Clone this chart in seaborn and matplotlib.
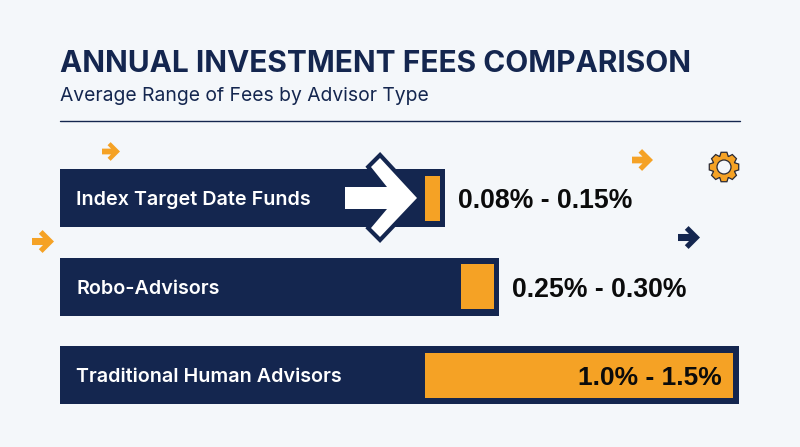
#Importing libraries
import numpy as np
import pandas as pd
import matplotlib.pyplot as plt
import seaborn as sns
from matplotlib.patches import Polygon, Circle

#Chart values (bar units are the picture's own, the bars are not to fee scale)
categories = ["Index Target Date Funds", "Robo-Advisors", "Traditional Human Advisors"]
track_length = [385, 439, 679]
fee_start = [365, 401, 365]
fee_end = [380, 434, 673]
fee_labels = ["0.08% - 0.15%", "0.25% - 0.30%", "1.0% - 1.5%"]

NAVY = "#14264F"
ORANGE = "#F5A225"
BACKGROUND = "#F4F7FA"

sns.set_theme(style="white")
plt.rcParams["font.family"] = ["Inter", "DejaVu Sans"]

fig = plt.figure(figsize=(8, 4.47), dpi=100, facecolor=BACKGROUND)

#Overlay in picture pixels for the header and the decorations
deco = fig.add_axes([0, 0, 1, 1], zorder=3)
deco.set_xlim(0, 800)
deco.set_ylim(447, 0)
deco.axis("off")

#Bar axes
ax = fig.add_axes([60 / 800, 1 - 419.5 / 447, 680 / 800, 265.5 / 447], zorder=1)
ax.set_facecolor("none")
df = pd.DataFrame({"category": categories, "track": track_length,
                   "start": fee_start, "end": fee_end})
df["span"] = df["end"] - df["start"]
sns.barplot(data=df, x="track", y="category", color=NAVY, saturation=1, width=0.655,
            linewidth=0, ax=ax)
sns.barplot(data=df, x="span", y="category", left=df["start"].values, color=ORANGE,
            saturation=1, width=0.51, linewidth=0, ax=ax)
ax.set_xlim(0, 680)
ax.set_ylim(2.5, -0.5)
ax.axis("off")

#Labels inside and next to the bars
for i, name in enumerate(categories):
    ax.text(16, i, name, color="white", fontsize=14.2, fontweight="semibold", va="center_baseline")
for i, label in enumerate(fee_labels[:2]):
    ax.text(track_length[i] + 13, i, label, color="#0B0B0B", fontsize=19.2, fontweight="bold",
            family="Liberation Sans", va="center_baseline")
ax.text(fee_end[2] - 11, 2, fee_labels[2], color="#0B0B0B", fontsize=19, fontweight="bold",
        family="Liberation Sans", va="center_baseline", ha="right")

#Header
deco.text(60, 61, "ANNUAL INVESTMENT FEES COMPARISON", color=NAVY, fontsize=21.5,
          fontweight="bold", va="center_baseline")
deco.text(60, 94, "Average Range of Fees by Advisor Type", color=NAVY, fontsize=13.9,
          va="center_baseline")
deco.plot([60, 740], [121, 121], color=NAVY, lw=1)

#Small arrows
def small_arrow(x0, x1, yc, color):
    w = x1 - x0
    h = 0.52 * w
    t = 0.16 * w
    d = 0.17 * w
    xa = x1 - h
    xi = xa - d + (h - d - t)
    pts = [(x0, yc - t), (xi, yc - t), (xa - d, yc - h + d), (xa, yc - h), (x1, yc),
           (xa, yc + h), (xa - d, yc + h - d), (xi, yc + t), (x0, yc + t)]
    deco.add_patch(Polygon(pts, closed=True, fc=color, ec="none"))

small_arrow(102, 120, 151.5, ORANGE)
small_arrow(32, 54, 241.5, ORANGE)
small_arrow(632, 653, 160, ORANGE)
small_arrow(678, 700, 237.5, NAVY)

#Big white arrow over the first bar
big_arrow = [(345, 187), (387, 187), (371, 167), (380, 158), (417, 198), (380, 237),
             (371, 228), (387, 209), (345, 209)]
deco.add_patch(Polygon(big_arrow, closed=True, fc=NAVY, ec=NAVY, lw=6, joinstyle="miter"))
deco.add_patch(Polygon(big_arrow, closed=True, fc="white", ec="none"))

#Gear
angles = np.linspace(0, 2 * np.pi, 8, endpoint=False) - np.pi / 2
gear = []
for a in angles:
    step = np.pi / 8
    for da, r in [(-step * 0.95, 11.5), (-step * 0.5, 15), (step * 0.5, 15), (step * 0.95, 11.5)]:
        gear.append((724 + r * np.cos(a + da), 167 + r * np.sin(a + da)))
deco.add_patch(Polygon(gear, closed=True, fc=ORANGE, ec="#2A2A35", lw=0.9))
deco.add_patch(Circle((724, 167), 7, fc=BACKGROUND, ec="#2A2A35", lw=0.9))

fig.savefig("out.png", dpi=100, facecolor=BACKGROUND)
